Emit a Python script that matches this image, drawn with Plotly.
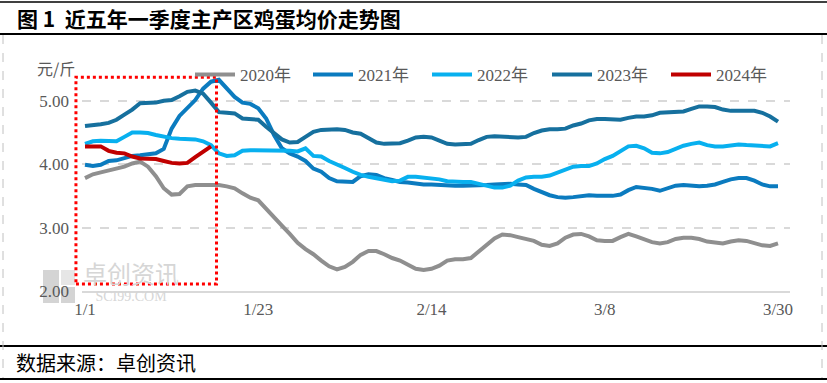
import pandas as pd
import plotly.graph_objects as go

# ---------------- data ----------------
dates = [d.strftime("%-m/%-d") for d in pd.date_range("2021-01-01", "2021-03-30")]
tick_labels = ["1/1", "1/23", "2/14", "3/8", "3/30"]
y_ticks = [2, 3, 4, 5]

p2020 = [3.78, 3.84, 3.87, 3.90, 3.92, 3.96, 4.01, 4.04, 3.96, 3.81,
         3.62, 3.52, 3.53, 3.65, 3.67, 3.67, 3.67, 3.67, 3.65, 3.62,
         3.54, 3.47, 3.43, 3.29, 3.15, 3.03, 2.90, 2.76, 2.66, 2.58,
         2.48, 2.39, 2.34, 2.38, 2.46, 2.57, 2.63, 2.63, 2.58, 2.52,
         2.48, 2.41, 2.35, 2.33, 2.35, 2.40, 2.48, 2.50, 2.50, 2.52,
         2.62, 2.74, 2.83, 2.89, 2.88, 2.85, 2.82, 2.79, 2.73, 2.71,
         2.75, 2.84, 2.89, 2.90, 2.86, 2.80, 2.79, 2.79, 2.85, 2.90,
         2.86, 2.81, 2.77, 2.75, 2.77, 2.82, 2.84, 2.84, 2.82, 2.78,
         2.76, 2.75, 2.78, 2.80, 2.79, 2.75, 2.72, 2.71, 2.75]
p2021 = [3.99, 3.97, 3.99, 4.05, 4.06, 4.09, 4.13, 4.14, 4.15, 4.17,
         4.24, 4.56, 4.76, 4.88, 5.01, 5.19, 5.30, 5.33, 5.19, 5.06,
         4.97, 4.95, 4.88, 4.72, 4.46, 4.25, 4.17, 4.12, 4.05, 3.93,
         3.88, 3.78, 3.73, 3.72, 3.72, 3.81, 3.84, 3.83, 3.78, 3.75,
         3.72, 3.71, 3.69, 3.68, 3.68, 3.67, 3.67, 3.66, 3.66, 3.66,
         3.67, 3.67, 3.68, 3.69, 3.69, 3.68, 3.67, 3.61, 3.56, 3.51,
         3.48, 3.47, 3.48, 3.50, 3.51, 3.50, 3.50, 3.50, 3.52, 3.59,
         3.64, 3.63, 3.61, 3.58, 3.62, 3.66, 3.67, 3.66, 3.65, 3.66,
         3.68, 3.72, 3.76, 3.78, 3.78, 3.74, 3.68, 3.65, 3.65]
p2022 = [4.32, 4.36, 4.37, 4.37, 4.36, 4.43, 4.50, 4.50, 4.49, 4.46,
         4.43, 4.41, 4.40, 4.39, 4.39, 4.36, 4.30, 4.17, 4.13, 4.14,
         4.21, 4.22, 4.22, 4.22, 4.22, 4.22, 4.21, 4.20, 4.25, 4.13,
         4.12, 4.05, 4.00, 3.94, 3.88, 3.83, 3.80, 3.78, 3.75, 3.73,
         3.74, 3.80, 3.80, 3.79, 3.78, 3.76, 3.73, 3.72, 3.72, 3.72,
         3.69, 3.66, 3.63, 3.63, 3.66, 3.74, 3.79, 3.80, 3.80, 3.82,
         3.87, 3.92, 3.96, 3.97, 3.97, 4.01, 4.08, 4.13, 4.21, 4.28,
         4.29, 4.25, 4.18, 4.17, 4.19, 4.24, 4.29, 4.32, 4.34, 4.30,
         4.28, 4.28, 4.30, 4.31, 4.30, 4.29, 4.28, 4.28, 4.33]
p2023 = [4.60, 4.61, 4.63, 4.65, 4.70, 4.78, 4.86, 4.96, 4.96, 4.97,
         5.00, 5.01, 5.07, 5.14, 5.16, 5.11, 4.97, 4.82, 4.81, 4.80,
         4.72, 4.71, 4.70, 4.59, 4.49, 4.39, 4.34, 4.35, 4.43, 4.51,
         4.54, 4.55, 4.55, 4.54, 4.50, 4.48, 4.41, 4.34, 4.32, 4.32,
         4.33, 4.37, 4.42, 4.43, 4.42, 4.37, 4.32, 4.31, 4.31, 4.32,
         4.38, 4.43, 4.44, 4.43, 4.42, 4.42, 4.43, 4.49, 4.53, 4.55,
         4.55, 4.56, 4.61, 4.64, 4.69, 4.71, 4.71, 4.70, 4.70, 4.73,
         4.75, 4.75, 4.77, 4.81, 4.82, 4.82, 4.83, 4.87, 4.91, 4.91,
         4.90, 4.86, 4.84, 4.84, 4.84, 4.84, 4.81, 4.75, 4.67]
p2024 = [4.28, 4.28, 4.28, 4.21, 4.18, 4.17, 4.12, 4.09, 4.09, 4.08,
         4.05, 4.02, 4.01, 4.02, 4.11, 4.20, 4.28]

series_names = ["2020年", "2021年", "2022年", "2023年", "2024年"]
series_vals = [p2020, p2021, p2022, p2023, p2024]
series_colors = ["#8f8f8f", "#0b7bbf", "#08b0ef", "#16709e", "#c00000"]

# highlighted window (annotation box), in data units
box_x = [-1.15, 16.7]
box_y = [2.11, 5.37]

# ---------------- figure ----------------
W, H = 827, 383
ML, MR, MT, MB = 82, 37, 69, 92
PW, PH = W - ML - MR, H - MT - MB


def px_x(px):
    return (px - ML) / PW


def px_y(py):
    return (H - MB - py) / PH


NUM_FONT = "Liberation Serif, Noto Sans CJK SC, serif"
CJK_FONT = "Noto Sans CJK SC, sans-serif"
GRAY = "#595959"

legend_ids = ["legend", "legend2", "legend3", "legend4", "legend5"]
legend_left_px = [190, 308, 427, 547, 666]

fig = go.Figure()
for name, vals, col, lid in zip(series_names, series_vals, series_colors, legend_ids):
    fig.add_trace(go.Scatter(
        x=dates[:len(vals)], y=vals, name=name, mode="lines",
        line=dict(color=col, width=4, shape="linear"),
        hoverinfo="skip", legend=lid,
    ))

shapes = []
# black rules
for py, w in [(2, 1.5), (34, 2), (346, 2), (379, 2)]:
    shapes.append(dict(type="line", xref="paper", yref="paper",
                       x0=px_x(0), x1=px_x(W), y0=px_y(py), y1=px_y(py),
                       line=dict(color="black", width=w)))
# dashed outer border
for pxv in [3, 822]:
    shapes.append(dict(type="line", xref="paper", yref="paper",
                       x0=px_x(pxv), x1=px_x(pxv), y0=px_y(35), y1=px_y(378),
                       line=dict(color="#c0c0c0", width=1, dash="dash")))
# watermark logo blocks
shapes.append(dict(type="rect", xref="paper", yref="paper", layer="below",
                   x0=px_x(43), x1=px_x(59), y0=px_y(303), y1=px_y(270),
                   fillcolor="#d4d4d4", line=dict(width=0)))
shapes.append(dict(type="rect", xref="paper", yref="paper", layer="below",
                   x0=px_x(61), x1=px_x(75), y0=px_y(303), y1=px_y(287),
                   fillcolor="#d4d4d4", line=dict(width=0)))
shapes.append(dict(type="rect", xref="paper", yref="paper", layer="below",
                   x0=px_x(61), x1=px_x(75), y0=px_y(285), y1=px_y(270),
                   fillcolor="#e6e6e6", line=dict(width=0)))
# red dotted highlight box (data coordinates converted to paper)
x_lo, x_hi = -3 / 7.875, 88 + 12 / 7.875
y_lo, y_hi = 2.0, 5.5


def dx(v):
    return (v - x_lo) / (x_hi - x_lo)


def dy(v):
    return (v - y_lo) / (y_hi - y_lo)


shapes.append(dict(type="rect", xref="paper", yref="paper",
                   x0=dx(box_x[0]), x1=dx(box_x[1]),
                   y0=dy(box_y[0]), y1=dy(box_y[1]),
                   line=dict(color="#ff0000", width=3, dash="dot")))

annotations = [
    dict(text="<b>图 1  近五年一季度主产区鸡蛋均价走势图</b>", xref="paper", yref="paper",
         x=px_x(15), y=px_y(18), xanchor="left", yanchor="middle", showarrow=False,
         font=dict(family=CJK_FONT, size=21, color="black")),
    dict(text="数据来源：卓创资讯", xref="paper", yref="paper",
         x=px_x(14), y=px_y(362), xanchor="left", yanchor="middle", showarrow=False,
         font=dict(family=CJK_FONT, size=20, color="black")),
    dict(text="元/斤", xref="paper", yref="paper",
         x=px_x(56), y=px_y(68), xanchor="center", yanchor="middle", showarrow=False,
         font=dict(family=CJK_FONT, size=16, color=GRAY)),
    dict(text=("<span style='font-size:24px'>卓创资讯</span><br>"
               "<span style='font-family:Liberation Serif'>SCI99.COM</span>"),
         xref="paper", yref="paper",
         x=px_x(131), y=px_y(253), xanchor="center", yanchor="top", showarrow=False,
         align="center",
         font=dict(family=CJK_FONT, size=14, color="#d6d6d6")),
]

layout_legends = {}
for lid, lpx in zip(legend_ids, legend_left_px):
    layout_legends[lid] = dict(
        orientation="h", x=px_x(lpx), y=px_y(75),
        xanchor="left", yanchor="middle",
        font=dict(family=NUM_FONT, size=17, color=GRAY),
        bgcolor="rgba(0,0,0,0)", itemwidth=40,
    )

fig.update_layout(
    width=W, height=H, autosize=False,
    margin=dict(l=ML, r=MR, t=MT, b=MB, pad=0, autoexpand=False),
    paper_bgcolor="white", plot_bgcolor="rgba(0,0,0,0)",
    showlegend=True,
    shapes=shapes, annotations=annotations,
    xaxis=dict(type="category", range=[x_lo, x_hi],
               tickmode="array", tickvals=tick_labels, ticktext=tick_labels,
               showgrid=False, zeroline=False,
               showline=True, linecolor="#d9d9d9", linewidth=2,
               ticks="", ticklabelstandoff=2,
               tickfont=dict(family=NUM_FONT, size=17, color=GRAY)),
    yaxis=dict(range=[y_lo, y_hi], tickmode="array", tickvals=y_ticks,
               tickformat=".2f", showgrid=True, gridcolor="#d9d9d9",
               gridwidth=1.5, griddash="dash", zeroline=False,
               showline=False, ticks="", ticklabelstandoff=12,
               tickfont=dict(family=NUM_FONT, size=17, color=GRAY)),
    **layout_legends,
)

fig.write_html("out.html", config={"displayModeBar": False},
               post_script="document.body.style.margin='0';")
